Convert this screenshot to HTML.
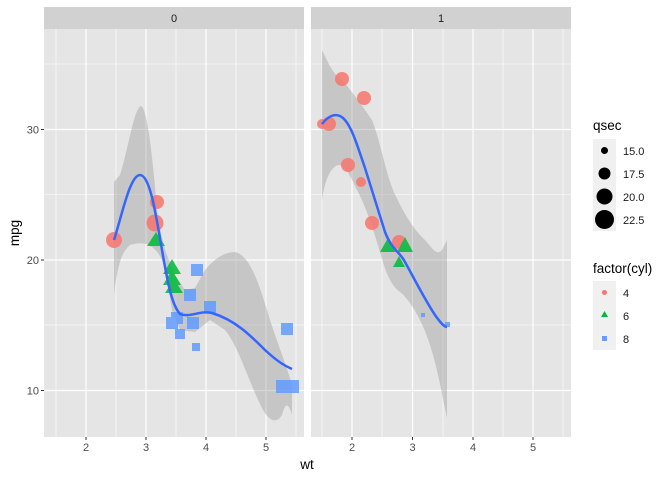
<!DOCTYPE html>
<html><head><style>body{margin:0;background:#fff}svg{display:block;font-family:"Liberation Sans",sans-serif}</style></head><body>
<svg width="672" height="480" viewBox="0 0 672 480">
<defs>
<clipPath id="c0"><rect x="44" y="29" width="260" height="408"/></clipPath>
<clipPath id="c1"><rect x="311" y="29" width="260" height="408"/></clipPath>
</defs>
<!-- panel 0 -->
<rect x="44" y="7" width="260" height="22" fill="#d1d1d1"/>
<text x="174" y="22" font-size="11" fill="#1a1a1a" text-anchor="middle">0</text>
<rect x="44" y="29" width="260" height="408" fill="#e5e5e5"/>
<g stroke="#fff" stroke-width="0.6">
<line x1="56" y1="29" x2="56" y2="437"/><line x1="116" y1="29" x2="116" y2="437"/><line x1="176" y1="29" x2="176" y2="437"/><line x1="236" y1="29" x2="236" y2="437"/><line x1="296" y1="29" x2="296" y2="437"/>
<line x1="44" y1="64" x2="304" y2="64"/><line x1="44" y1="194.5" x2="304" y2="194.5"/><line x1="44" y1="325" x2="304" y2="325"/>
</g>
<g stroke="#fff" stroke-width="1.2">
<line x1="86" y1="29" x2="86" y2="437"/><line x1="146" y1="29" x2="146" y2="437"/><line x1="206" y1="29" x2="206" y2="437"/><line x1="266" y1="29" x2="266" y2="437"/>
<line x1="44" y1="129.5" x2="304" y2="129.5"/><line x1="44" y1="260" x2="304" y2="260"/><line x1="44" y1="390.5" x2="304" y2="390.5"/>
</g>
<g clip-path="url(#c0)">
<path d="M114,182 L120,175 C128,150 134,108 141,106 C147,108 152,150 158,220 L165,250 L175,275 L185,290 L195,288 L205,270 C215,258 225,252 235,252 C250,256 258,280 270,320 C280,350 288,370 292,385 L292,415 C289,405 286,400 282,415 C276,425 268,420 262,408 C250,385 238,345 225,330 L210,320 L195,332 L180,330 L172,310 L165,268 C158,245 145,240 130,245 C122,252 118,262 114,295 Z" fill="#999" fill-opacity="0.4"/>
<g opacity="0.85">
<circle cx="114" cy="240" r="8" fill="#f8766d"/>
<circle cx="157" cy="202" r="7" fill="#f8766d"/>
<circle cx="155" cy="223" r="8.5" fill="#f8766d"/>
<polygon points="156,232 165,246 147,246" fill="#00ba38"/>
<polygon points="172,259 181,274 163,274" fill="#00ba38"/>
<polygon points="172,270 181,285 163,285" fill="#00ba38"/>
<polygon points="174,279 183,293 165,293" fill="#00ba38"/>
<rect x="191" y="264" width="12" height="12" fill="#619cff"/>
<rect x="184" y="289" width="12" height="12" fill="#619cff"/>
<rect x="204" y="301" width="12" height="12" fill="#619cff"/>
<rect x="166" y="317" width="12" height="12" fill="#619cff"/>
<rect x="171" y="312" width="12" height="12" fill="#619cff"/>
<rect x="187" y="317" width="12" height="12" fill="#619cff"/>
<rect x="175" y="329" width="10" height="10" fill="#619cff"/>
<rect x="192" y="343" width="8" height="8" fill="#619cff"/>
<rect x="281" y="323" width="12" height="12" fill="#619cff"/>
<rect x="276" y="380" width="13" height="13" fill="#619cff"/>
<rect x="286" y="380" width="13" height="13" fill="#619cff"/>
</g>
<path d="M114,240 C122,215 130,175 140,175 C150,175 156,215 162,250 C168,285 172,305 180,314 C190,318 200,310 212,313 C235,320 250,335 265,350 C278,362 285,366 292,369" fill="none" stroke="#3366ff" stroke-width="2.5"/>
</g>
<!-- panel 1 -->
<rect x="311" y="7" width="260" height="22" fill="#d1d1d1"/>
<text x="441" y="22" font-size="11" fill="#1a1a1a" text-anchor="middle">1</text>
<rect x="311" y="29" width="260" height="408" fill="#e5e5e5"/>
<g stroke="#fff" stroke-width="0.6">
<line x1="322" y1="29" x2="322" y2="437"/><line x1="382" y1="29" x2="382" y2="437"/><line x1="443" y1="29" x2="443" y2="437"/><line x1="503" y1="29" x2="503" y2="437"/><line x1="563" y1="29" x2="563" y2="437"/>
<line x1="311" y1="64" x2="571" y2="64"/><line x1="311" y1="194.5" x2="571" y2="194.5"/><line x1="311" y1="325" x2="571" y2="325"/>
</g>
<g stroke="#fff" stroke-width="1.2">
<line x1="352" y1="29" x2="352" y2="437"/><line x1="412.5" y1="29" x2="412.5" y2="437"/><line x1="473" y1="29" x2="473" y2="437"/><line x1="533" y1="29" x2="533" y2="437"/>
<line x1="311" y1="129.5" x2="571" y2="129.5"/><line x1="311" y1="260" x2="571" y2="260"/><line x1="311" y1="390.5" x2="571" y2="390.5"/>
</g>
<g clip-path="url(#c1)">
<path d="M322,50 C328,62 333,75 342,80 C355,95 365,110 372,120 C380,140 385,170 393,190 C402,210 412,228 425,240 C432,248 438,258 443,248 L447,240 L447,418 C442,395 438,370 430,345 C422,320 410,300 400,292 C390,285 385,270 380,252 C372,225 365,205 358,192 C350,175 345,165 338,165 C330,168 325,180 322,200 Z" fill="#999" fill-opacity="0.4"/>
<g opacity="0.85">
<circle cx="342" cy="79" r="7" fill="#f8766d"/>
<circle cx="364" cy="98" r="7" fill="#f8766d"/>
<circle cx="322" cy="124" r="5" fill="#f8766d"/>
<circle cx="329" cy="124" r="7" fill="#f8766d"/>
<circle cx="348" cy="165" r="7" fill="#f8766d"/>
<circle cx="361" cy="182" r="5" fill="#f8766d"/>
<circle cx="372" cy="223" r="7" fill="#f8766d"/>
<circle cx="399" cy="242" r="7" fill="#f8766d"/>
<polygon points="388,238 396,252 380,252" fill="#00ba38"/>
<polygon points="405,237 413,252 397,252" fill="#00ba38"/>
<polygon points="399,256 405,267 393,267" fill="#00ba38"/>
<rect x="421" y="313" width="4" height="4" fill="#619cff"/>
<rect x="445" y="322" width="5" height="5" fill="#619cff"/>
</g>
<path d="M322,124 C328,116 336,112 343,118 C352,126 358,148 365,168 C372,190 378,210 385,232 C392,250 400,252 405,262 C415,280 425,300 435,315 C440,322 444,327 447,327" fill="none" stroke="#3366ff" stroke-width="2.5"/>
</g>
<!-- axes -->
<g font-size="11" fill="#4d4d4d">
<text x="39" y="133.5" text-anchor="end">30</text>
<text x="39" y="264" text-anchor="end">20</text>
<text x="39" y="394.5" text-anchor="end">10</text>
<g text-anchor="middle">
<text x="86" y="451">2</text><text x="146" y="451">3</text><text x="206" y="451">4</text><text x="266" y="451">5</text>
<text x="352" y="451">2</text><text x="412.5" y="451">3</text><text x="473" y="451">4</text><text x="533" y="451">5</text>
</g>
</g>
<g stroke="#333" stroke-width="1">
<line x1="41" y1="129.5" x2="44" y2="129.5"/><line x1="41" y1="260" x2="44" y2="260"/><line x1="41" y1="390.5" x2="44" y2="390.5"/>
<line x1="86" y1="437" x2="86" y2="440"/><line x1="146" y1="437" x2="146" y2="440"/><line x1="206" y1="437" x2="206" y2="440"/><line x1="266" y1="437" x2="266" y2="440"/>
<line x1="352" y1="437" x2="352" y2="440"/><line x1="412.5" y1="437" x2="412.5" y2="440"/><line x1="473" y1="437" x2="473" y2="440"/><line x1="533" y1="437" x2="533" y2="440"/>
</g>
<text x="307" y="469" font-size="13.5" text-anchor="middle" fill="#000">wt</text>
<text transform="translate(19,233) rotate(-90)" font-size="13.5" text-anchor="middle" fill="#000">mpg</text>
<!-- legend -->
<text x="593" y="130" font-size="13.5" fill="#000">qsec</text>
<rect x="593" y="139" width="23" height="92" fill="#f0f0f0"/>
<circle cx="604.5" cy="150.5" r="3.5" fill="#000"/>
<circle cx="604.5" cy="173.5" r="6" fill="#000"/>
<circle cx="604.5" cy="196.5" r="8" fill="#000"/>
<circle cx="604.5" cy="219.5" r="9.5" fill="#000"/>
<g font-size="11" fill="#1a1a1a">
<text x="623" y="155">15.0</text><text x="623" y="178">17.5</text><text x="623" y="201">20.0</text><text x="623" y="224">22.5</text>
</g>
<text x="593" y="273" font-size="13.5" fill="#000">factor(cyl)</text>
<rect x="593" y="281" width="23" height="69" fill="#f0f0f0"/>
<circle cx="604.5" cy="292.5" r="2.5" fill="#f8766d"/>
<polygon points="604.5,311 608,317 601,317" fill="#00ba38"/>
<rect x="602" y="336" width="5" height="5" fill="#619cff"/>
<g font-size="11" fill="#1a1a1a">
<text x="623" y="297">4</text><text x="623" y="320">6</text><text x="623" y="343">8</text>
</g>
</svg>
</body></html>
